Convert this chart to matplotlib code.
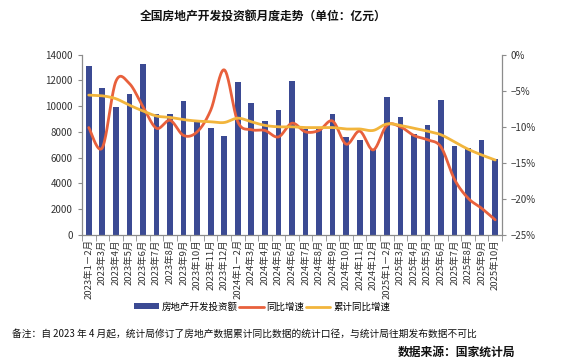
import numpy as np
import matplotlib
matplotlib.use("Agg")
import matplotlib.pyplot as plt
from matplotlib.ticker import FuncFormatter, MultipleLocator

plt.rcParams['font.family'] = ['Noto Sans CJK SC', 'DejaVu Sans']
plt.rcParams['axes.unicode_minus'] = True

categories = (
    ["2023年1－2月"] + [f"2023年{m}月" for m in range(3, 13)] +
    ["2024年1－2月"] + [f"2024年{m}月" for m in range(3, 13)] +
    ["2025年1－2月"] + [f"2025年{m}月" for m in range(3, 11)]
)

investment = [13090, 11430, 9960, 10970, 13300, 9410, 9410, 10420, 8740, 8330, 7700,
              11900, 10280, 8870, 9720, 11980, 8250, 8250, 9410, 7620, 7390, 6690,
              10730, 9180, 7860, 8560, 10500, 6920, 6770, 7390, 5910]

yoy = [-10.1, -12.9, -3.7, -4.0, -7.2, -10.2, -9.1, -11.2, -10.7, -7.7, -2.1,
       -9.3, -10.4, -10.5, -11.4, -9.5, -10.7, -10.5, -9.2, -12.4, -10.6, -13.2,
       -9.8, -10.0, -11.2, -11.8, -12.8, -17.3, -19.9, -21.3, -22.9]

cum_yoy = [-5.6, -5.7, -6.1, -7.0, -7.8, -8.5, -8.7, -9.0, -9.2, -9.3, -9.4,
           -8.8, -9.3, -9.8, -10.0, -10.0, -10.1, -10.1, -10.1, -10.3, -10.3, -10.5,
           -9.6, -9.8, -10.2, -10.6, -11.1, -12.1, -13.1, -13.9, -14.6]

legend_labels = ["房地产开发投资额", "同比增速", "累计同比增速"]

BAR_C = "#3B4A93"
RED_C = "#E8603C"
YEL_C = "#F2B53C"
AX_C = "#8C8C8C"


def smooth(xs, ys, n=20):
    xs = np.asarray(xs, float)
    ys = np.asarray(ys, float)
    px, py = [], []
    for i in range(len(xs) - 1):
        p0 = np.array([xs[max(i - 1, 0)], ys[max(i - 1, 0)]])
        p1 = np.array([xs[i], ys[i]])
        p2 = np.array([xs[i + 1], ys[i + 1]])
        p3 = np.array([xs[min(i + 2, len(xs) - 1)], ys[min(i + 2, len(xs) - 1)]])
        c1 = p1 + (p2 - p0) / 6.0
        c2 = p2 - (p3 - p1) / 6.0
        t = np.linspace(0, 1, n, endpoint=(i == len(xs) - 2))[:, None]
        pts = ((1 - t) ** 3) * p1 + 3 * ((1 - t) ** 2) * t * c1 + 3 * (1 - t) * t ** 2 * c2 + t ** 3 * p2
        px.extend(pts[:, 0]); py.extend(pts[:, 1])
    return np.array(px), np.array(py)


fig = plt.figure(figsize=(5.69, 3.64), dpi=100)
ax = fig.add_axes([0.1441, 0.3544, 0.7381, 0.4953])
ax2 = ax.twinx()

x = np.arange(len(categories))
bars = ax.bar(x, investment, width=0.42, color=BAR_C, zorder=2)
ax.set_xlim(-0.5, len(categories) - 0.5)
ax.set_ylim(0, 14000)
ax.yaxis.set_major_locator(MultipleLocator(2000))

sx, sy = smooth(x, yoy)
l1, = ax2.plot(sx, sy, color=RED_C, lw=2.0, solid_capstyle='round', zorder=3)
cx, cy = smooth(x, cum_yoy)
l2, = ax2.plot(cx, cy, color=YEL_C, lw=2.0, solid_capstyle='round', zorder=4)
ax2.set_ylim(-25, 0)
ax2.yaxis.set_major_locator(MultipleLocator(5))
ax2.yaxis.set_major_formatter(FuncFormatter(lambda v, p: f"{v:.0f}%".replace("-", "\u2212")))

# category ticks at boundaries
ax.set_xticks(x)
ax.set_xticklabels(categories, rotation=90, fontsize=6.8, color="#333333")
ax.tick_params(axis='x', length=0, pad=3)
ax.set_xticks(np.arange(-0.5, len(categories), 1), minor=True)
ax.tick_params(axis='x', which='minor', length=4, color=AX_C, direction='out')

ax.tick_params(axis='y', labelsize=7, colors="#333333", length=3, color=AX_C)
ax2.tick_params(axis='y', labelsize=7, colors="#333333", length=3, color=AX_C)
for a in (ax, ax2):
    a.spines['top'].set_visible(False)
    for s in ('left', 'right', 'bottom'):
        a.spines[s].set_color(AX_C)
        a.spines[s].set_linewidth(0.9)
ax.spines['right'].set_visible(False)
ax2.spines['left'].set_visible(False)
ax2.spines['bottom'].set_visible(False)

fig.text(0.462, 0.953, "全国房地产开发投资额月度走势（单位：亿元）", ha='center', va='center',
         fontsize=8.5, fontweight='bold', color="#111111")

leg = fig.legend([bars, l1, l2], legend_labels, loc='center', bbox_to_anchor=(0.461, 0.157),
                 ncol=3, frameon=False, fontsize=6.8, handlelength=2.6, handletextpad=0.3,
                 columnspacing=0.15, handleheight=0.6, borderpad=0.2)

fig.text(0.021, 0.083, "备注：自 2023 年 4 月起，统计局修订了房地产数据累计同比数据的统计口径，与统计局往期发布数据不可比",
         ha='left', va='center', fontsize=7, color="#111111")
fig.text(0.905, 0.032, "数据来源：国家统计局", ha='right', va='center',
         fontsize=8.5, fontweight='bold', color="#111111")

fig.savefig("out.png", dpi=100)
